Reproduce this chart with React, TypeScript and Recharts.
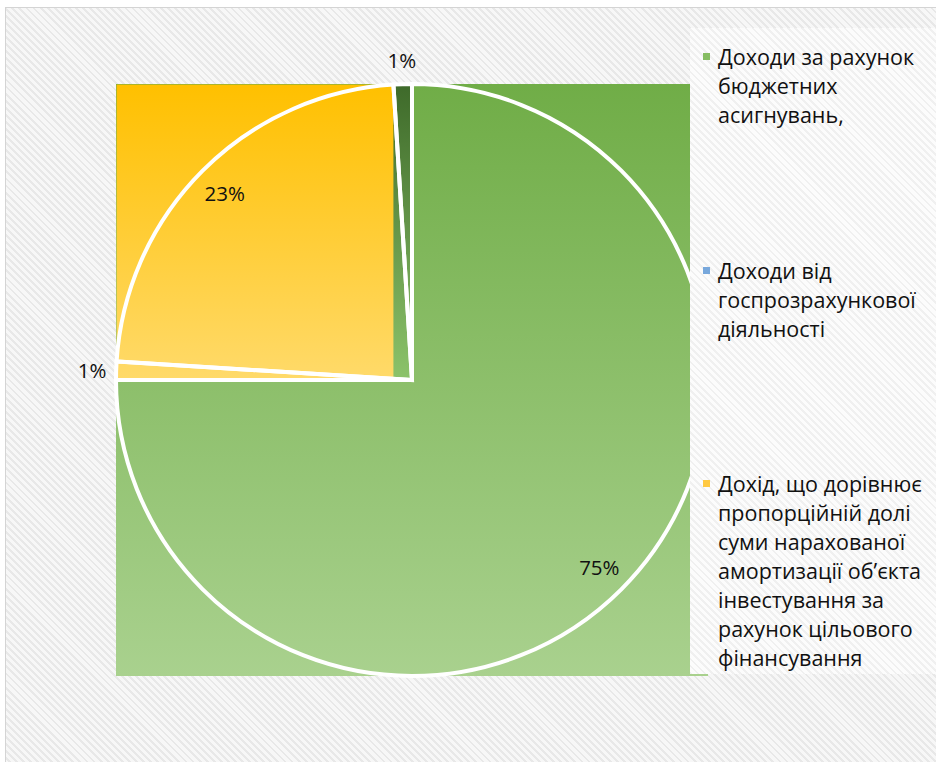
import { Cell, Legend, Pie, PieChart } from 'recharts'

// shares in the order Excel draws them: clockwise from 12 o'clock
const sliceNames = [
  'Доходи за рахунок бюджетних асигнувань,',
  'Доходи від госпрозрахункової діяльності',
  'Дохід, що дорівнює пропорційній долі суми нарахованої амортизації об’єкта інвестування за рахунок цільового фінансування',
  '',
]
const sliceShares = [75, 1, 23, 1]

// legend text as it wraps in the original
const legendLines = [
  ['Доходи за рахунок', 'бюджетних', 'асигнувань,'],
  ['Доходи від', 'госпрозрахункової', 'діяльності'],
  [
    'Дохід, що дорівнює',
    'пропорційній долі',
    'суми нарахованої',
    'амортизації об’єкта',
    'інвестування за',
    'рахунок цільового',
    'фінансування',
  ],
]

const gradTop = ['#70ad47', '#5b9bd5', '#ffc000', '#3e6a2a']
const gradBottom = ['#a9d18e', '#9dc3e6', '#ffda6a', '#8cc36a']
const markerColors = ['#86bd62', '#78a8dc', '#ffc942']

const FONT = '"Open Sans", "Noto Sans", sans-serif'
const RAD = Math.PI / 180

const data = sliceNames.map((name, i) => ({ name, value: sliceShares[i] }))

// the source image lost the slice clip paths, so each gradient fills the slice's bounding box
function BoxSlice(props: any) {
  const { cx, cy, outerRadius: r, startAngle, endAngle, fill } = props
  const lo = Math.min(startAngle, endAngle)
  const hi = Math.max(startAngle, endAngle)
  const pts: [number, number][] = [[cx, cy]]
  const add = (a: number) => pts.push([cx + r * Math.cos(a * RAD), cy - r * Math.sin(a * RAD)])
  add(lo)
  add(hi)
  for (let a = Math.ceil(lo / 90) * 90; a <= hi; a += 90) add(a)
  const xs = pts.map((p) => p[0])
  const ys = pts.map((p) => p[1])
  const x0 = Math.min(...xs)
  const y0 = Math.min(...ys)
  return (
    <rect x={x0} y={y0} width={Math.max(...xs) - x0} height={Math.max(...ys) - y0} fill={fill} />
  )
}

function SliceLabel(props: any) {
  const { cx, cy, midAngle, outerRadius, percent } = props
  const R = percent > 0.05 ? outerRadius * 0.895 : outerRadius + 24
  const x = cx + R * Math.cos(midAngle * RAD)
  const y = cy - R * Math.sin(midAngle * RAD)
  return (
    <text
      x={x}
      y={y}
      textAnchor="middle"
      dominantBaseline="central"
      fill="#111"
      fontSize={20.5}
      fontFamily={FONT}
    >
      {`${Math.round(percent * 100)}%`}
    </text>
  )
}

function LegendBox() {
  return (
    <div
      style={{
        display: 'flex',
        flexDirection: 'column',
        justifyContent: 'space-between',
        height: '100%',
        boxSizing: 'border-box',
        padding: '14px 0 2px 13px',
        background: 'repeating-linear-gradient(45deg, #f0f0f0 0px, #f0f0f0 2px, #fcfcfc 2px, #fcfcfc 5px)',
        fontFamily: FONT,
        fontSize: 21.5,
        lineHeight: '29px',
        color: '#111',
      }}
    >
      {legendLines.map((lines, i) => (
        <div key={i} style={{ display: 'flex', alignItems: 'flex-start' }}>
          <span
            style={{
              width: 7,
              height: 7,
              marginTop: 11,
              marginRight: 8,
              background: markerColors[i],
              flex: 'none',
            }}
          />
          <div>
            {lines.map((l) => (
              <div key={l} style={{ whiteSpace: 'nowrap' }}>
                {l}
              </div>
            ))}
          </div>
        </div>
      ))}
    </div>
  )
}

export default function App() {
  return (
    <div style={{ position: 'relative', width: 936, height: 762, background: '#fff', overflow: 'hidden' }}>
      <style>{'body{margin:0}'}</style>
      <div
        style={{
          position: 'absolute',
          left: 5,
          top: 7,
          width: 960,
          height: 780,
          border: '1px solid #d4d4d4',
          background: 'repeating-linear-gradient(45deg, #e8e8e8 0px, #e8e8e8 2px, #f7f7f7 2px, #f7f7f7 5px)',
        }}
      />
      <div style={{ position: 'absolute', left: 0, top: 0 }}>
        <PieChart width={936} height={762} margin={{ top: 0, right: 0, bottom: 0, left: 0 }}>
          <defs>
            {gradTop.map((c, i) => (
              <linearGradient key={i} id={`sliceGrad${i}`} x1="0" y1="0" x2="0" y2="1">
                <stop offset="0%" stopColor={c} />
                <stop offset="100%" stopColor={gradBottom[i]} />
              </linearGradient>
            ))}
          </defs>
          <Pie
            data={data}
            dataKey="value"
            nameKey="name"
            cx={412}
            cy={380}
            outerRadius={296}
            startAngle={90}
            endAngle={-270}
            stroke="none"
            shape={BoxSlice}
            isAnimationActive={false}
          >
            {data.map((_, i) => (
              <Cell key={i} fill={`url(#sliceGrad${i})`} />
            ))}
          </Pie>
          <Pie
            data={data}
            dataKey="value"
            nameKey="name"
            cx={412}
            cy={380}
            outerRadius={296}
            startAngle={90}
            endAngle={-270}
            stroke="#ffffff"
            strokeWidth={4}
            label={SliceLabel}
            labelLine={false}
            legendType="none"
            isAnimationActive={false}
          >
            {data.map((_, i) => (
              <Cell key={i} fill="none" />
            ))}
          </Pie>
          <Legend
            layout="vertical"
            align="right"
            verticalAlign="top"
            content={LegendBox}
            wrapperStyle={{ left: 690, top: 28, width: 246, height: 646 }}
          />
        </PieChart>
      </div>
    </div>
  )
}
